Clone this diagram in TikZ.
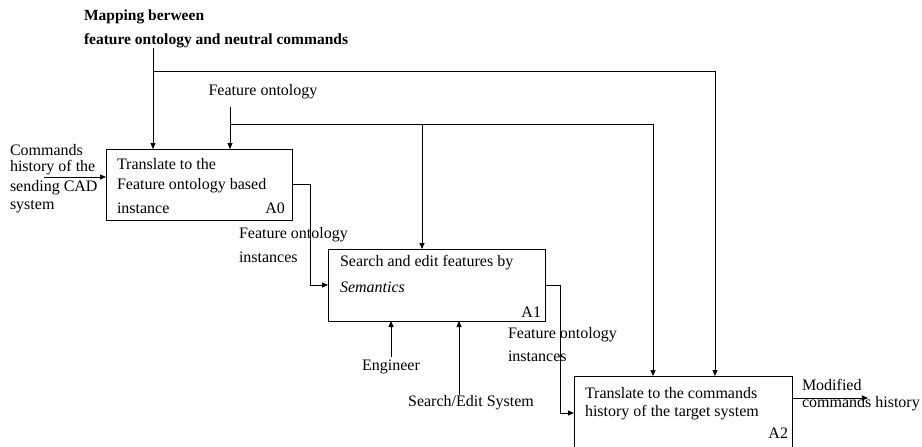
\documentclass[tikz,border=0pt]{standalone}
\usepackage{fontspec}
\setmainfont{Liberation Serif}
\usetikzlibrary{arrows.meta}
\begin{document}
\begin{tikzpicture}[x=1pt,y=-1pt,
  every node/.style={inner sep=0pt,outer sep=0pt},
  txt/.style={anchor=west,font=\fontsize{16}{18}\selectfont,align=left},
  boldtxt/.style={anchor=west,font=\fontsize{15.5}{24}\selectfont\bfseries,align=left},
  fn/.style={draw,line width=0.9pt,anchor=north west},
  link/.style={line width=0.8pt},
  arr/.style={link,-{Triangle[length=6pt,width=5pt]}}]
\useasboundingbox (0,0) rectangle (922,447);
\clip (0,0) rectangle (922,447);

% function boxes
\node[fn,minimum width=186pt,minimum height=71pt] (a0) at (106,149) {};
\node[fn,minimum width=217pt,minimum height=72pt] (a1) at (328,249) {};
\node[fn,minimum width=218pt,minimum height=74pt] (a2) at (574,376) {};

% box texts
\node[txt] (a0t1) at (117,164) {Translate to the};
\node[txt] (a0t2) at (117,186) {Feature ontology based};
\node[txt] (a0t3) at (117,208) {instance};
\node[txt,anchor=east] (a0id) at (285,208) {A0};

\node[txt] (a1t1) at (340,263) {Search and edit features by};
\node[txt] (a1t2) at (340,287) {\itshape Semantics};
\node[txt,anchor=east] (a1id) at (541,312) {A1};

\node[txt] (a2t1) at (585,393) {Translate to the commands};
\node[txt] (a2t2) at (585,413) {history of the target system};
\node[txt,anchor=east] (a2id) at (788,433) {A2};

% arrow labels
\node[boldtxt] (mapl1) at (84,17) {Mapping berween};
\node[boldtxt] (mapl2) at (84,41) {feature ontology and neutral commands};
\node[txt,anchor=center] (fol) at (263,92) {Feature ontology};
\node[txt] (cin1) at (10,150) {Commands};
\node[txt] (cin2) at (10,168) {history of the};
\node[txt] (cin3) at (10,188) {sending CAD};
\node[txt] (cin4) at (10,207) {system};
\node[txt] (fi1a) at (239,235) {Feature ontology};
\node[txt] (fi1b) at (239,257) {instances};
\node[txt] (fi2a) at (508,335) {Feature ontology};
\node[txt] (fi2b) at (508,356) {instances};
\node[txt,anchor=center] (eng) at (391,367) {Engineer};
\node[txt,anchor=center] (ses) at (471,403) {Search/Edit System};
\node[txt] (mod1) at (802,385) {Modified};
\node[txt] (mod2) at (802,404) {commands history};

% junction and end points of the connectors
\coordinate (mapsrc) at (153,48);
\coordinate (mapJ) at (153,71);
\coordinate (mapR) at (715,71);
\coordinate (fosrc) at (230,107);
\coordinate (foJ) at (230,124);
\coordinate (foM) at (422,124);
\coordinate (foR) at (653,124);
\coordinate (cinsrc) at (44,177);
\coordinate (a0bend) at (310,184);
\coordinate (a1bend) at (560,285);
\coordinate (engsrc) at (391,357);
\coordinate (sessrc) at (459,395);
\coordinate (a2out) at (792,398);
\coordinate (modend) at (868,398);

% controls
\draw[arr] (mapsrc) -- (mapsrc |- a0.north);
\draw[arr] (mapJ) -- (mapR) -- (mapR |- a2.north);
\draw[arr] (fosrc) -- (fosrc |- a0.north);
\draw[arr] (foJ) -- (foR) -- (foR |- a2.north);
\draw[arr] (foM) -- (foM |- a1.north);

% inputs and outputs
\draw[arr] (cinsrc) -- (cinsrc -| a0.west);
\draw[arr] (a0bend -| a0.east) -- (a0bend) |- (a1.west);
\draw[arr] (a1.east) -| (a1bend) |- (a2.west);
\draw[arr] (a2out) -- (modend);

% mechanisms
\draw[arr] (engsrc) -- (engsrc |- a1.south);
\draw[arr] (sessrc) -- (sessrc |- a1.south);
\end{tikzpicture}
\end{document}
